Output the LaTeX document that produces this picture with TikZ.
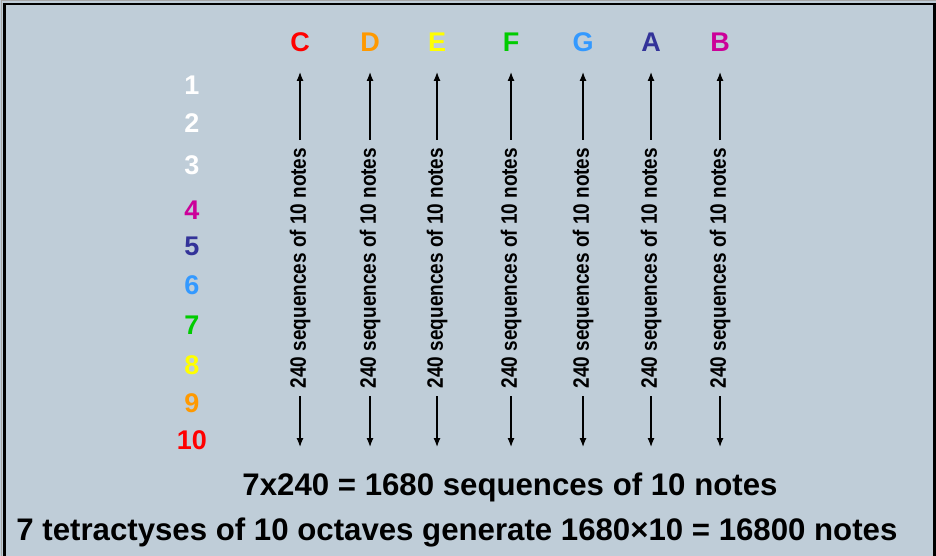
\documentclass[tikz,border=0pt]{standalone}
\usepackage{fontspec}
\setmainfont{Liberation Sans}
\newfontfamily\narrowfont{Liberation Sans}[FakeStretch=0.85]
\usetikzlibrary{arrows.meta}
\definecolor{bg}{HTML}{BFCDD8}
\definecolor{nC}{HTML}{FF0000}
\definecolor{nD}{HTML}{FF9900}
\definecolor{nE}{HTML}{FFFF00}
\definecolor{nF}{HTML}{00CC00}
\definecolor{nG}{HTML}{3399FF}
\definecolor{nA}{HTML}{333399}
\definecolor{nB}{HTML}{CC0099}
\tikzset{
  note/.style={font=\fontsize{27}{27}\selectfont\bfseries, inner sep=0pt},
  num/.style={font=\fontsize{27}{27}\selectfont\bfseries, inner sep=0pt},
  seqlabel/.style={rotate=90, font=\narrowfont\fontsize{22.3}{22.3}\selectfont\bfseries, inner xsep=8pt, inner ysep=0pt},
  arr/.style={line width=1.2pt, -{Latex[length=9pt,width=7pt]}},
  foot/.style={font=\fontsize{31.2}{31.2}\selectfont\bfseries, inner sep=0pt}
}
\begin{document}
\begin{tikzpicture}[x=1pt,y=-1pt]
\useasboundingbox (0,0) rectangle (936,556);
\fill[bg] (0,0) rectangle (936,556);
\draw[gray!70, line width=1pt] (1,560) -- (1,1) -- (936,1);
\draw[black, line width=2.2pt] (4.5,560) -- (4.5,4) -- (934.5,4) -- (934.5,560);
% note columns
\foreach \n/\c/\x [count=\i] in {C/nC/300,D/nD/370,E/nE/437,F/nF/511,G/nG/583,A/nA/651,B/nB/720}{
  \node[note, text=\c] (n\i) at (\x,42) {\n};
  \coordinate (t\i) at (\x,72);
  \coordinate (b\i) at (\x,447);
  \node[seqlabel] (l\i) at (\x,268) {240 sequences of 10 notes};
  \draw[arr] (l\i.east) -- (t\i);
  \draw[arr] (l\i.west) -- (b\i);
}
% octave numbers
\foreach \k/\c/\y in {1/white/85,2/white/123,3/white/165,4/nB/210,5/nA/246,6/nG/285,7/nF/325,8/nE/365,9/nD/403,10/nC/440}{
  \node[num, text=\c] (o\k) at (192,\y) {\k};
}
\node[foot] (f1) at (510,487) {7x240 = 1680 sequences of 10 notes};
\node[foot] (f2) at (457,532) {7 tetractyses of 10 octaves generate 1680×10 = 16800 notes};
\end{tikzpicture}
\end{document}
